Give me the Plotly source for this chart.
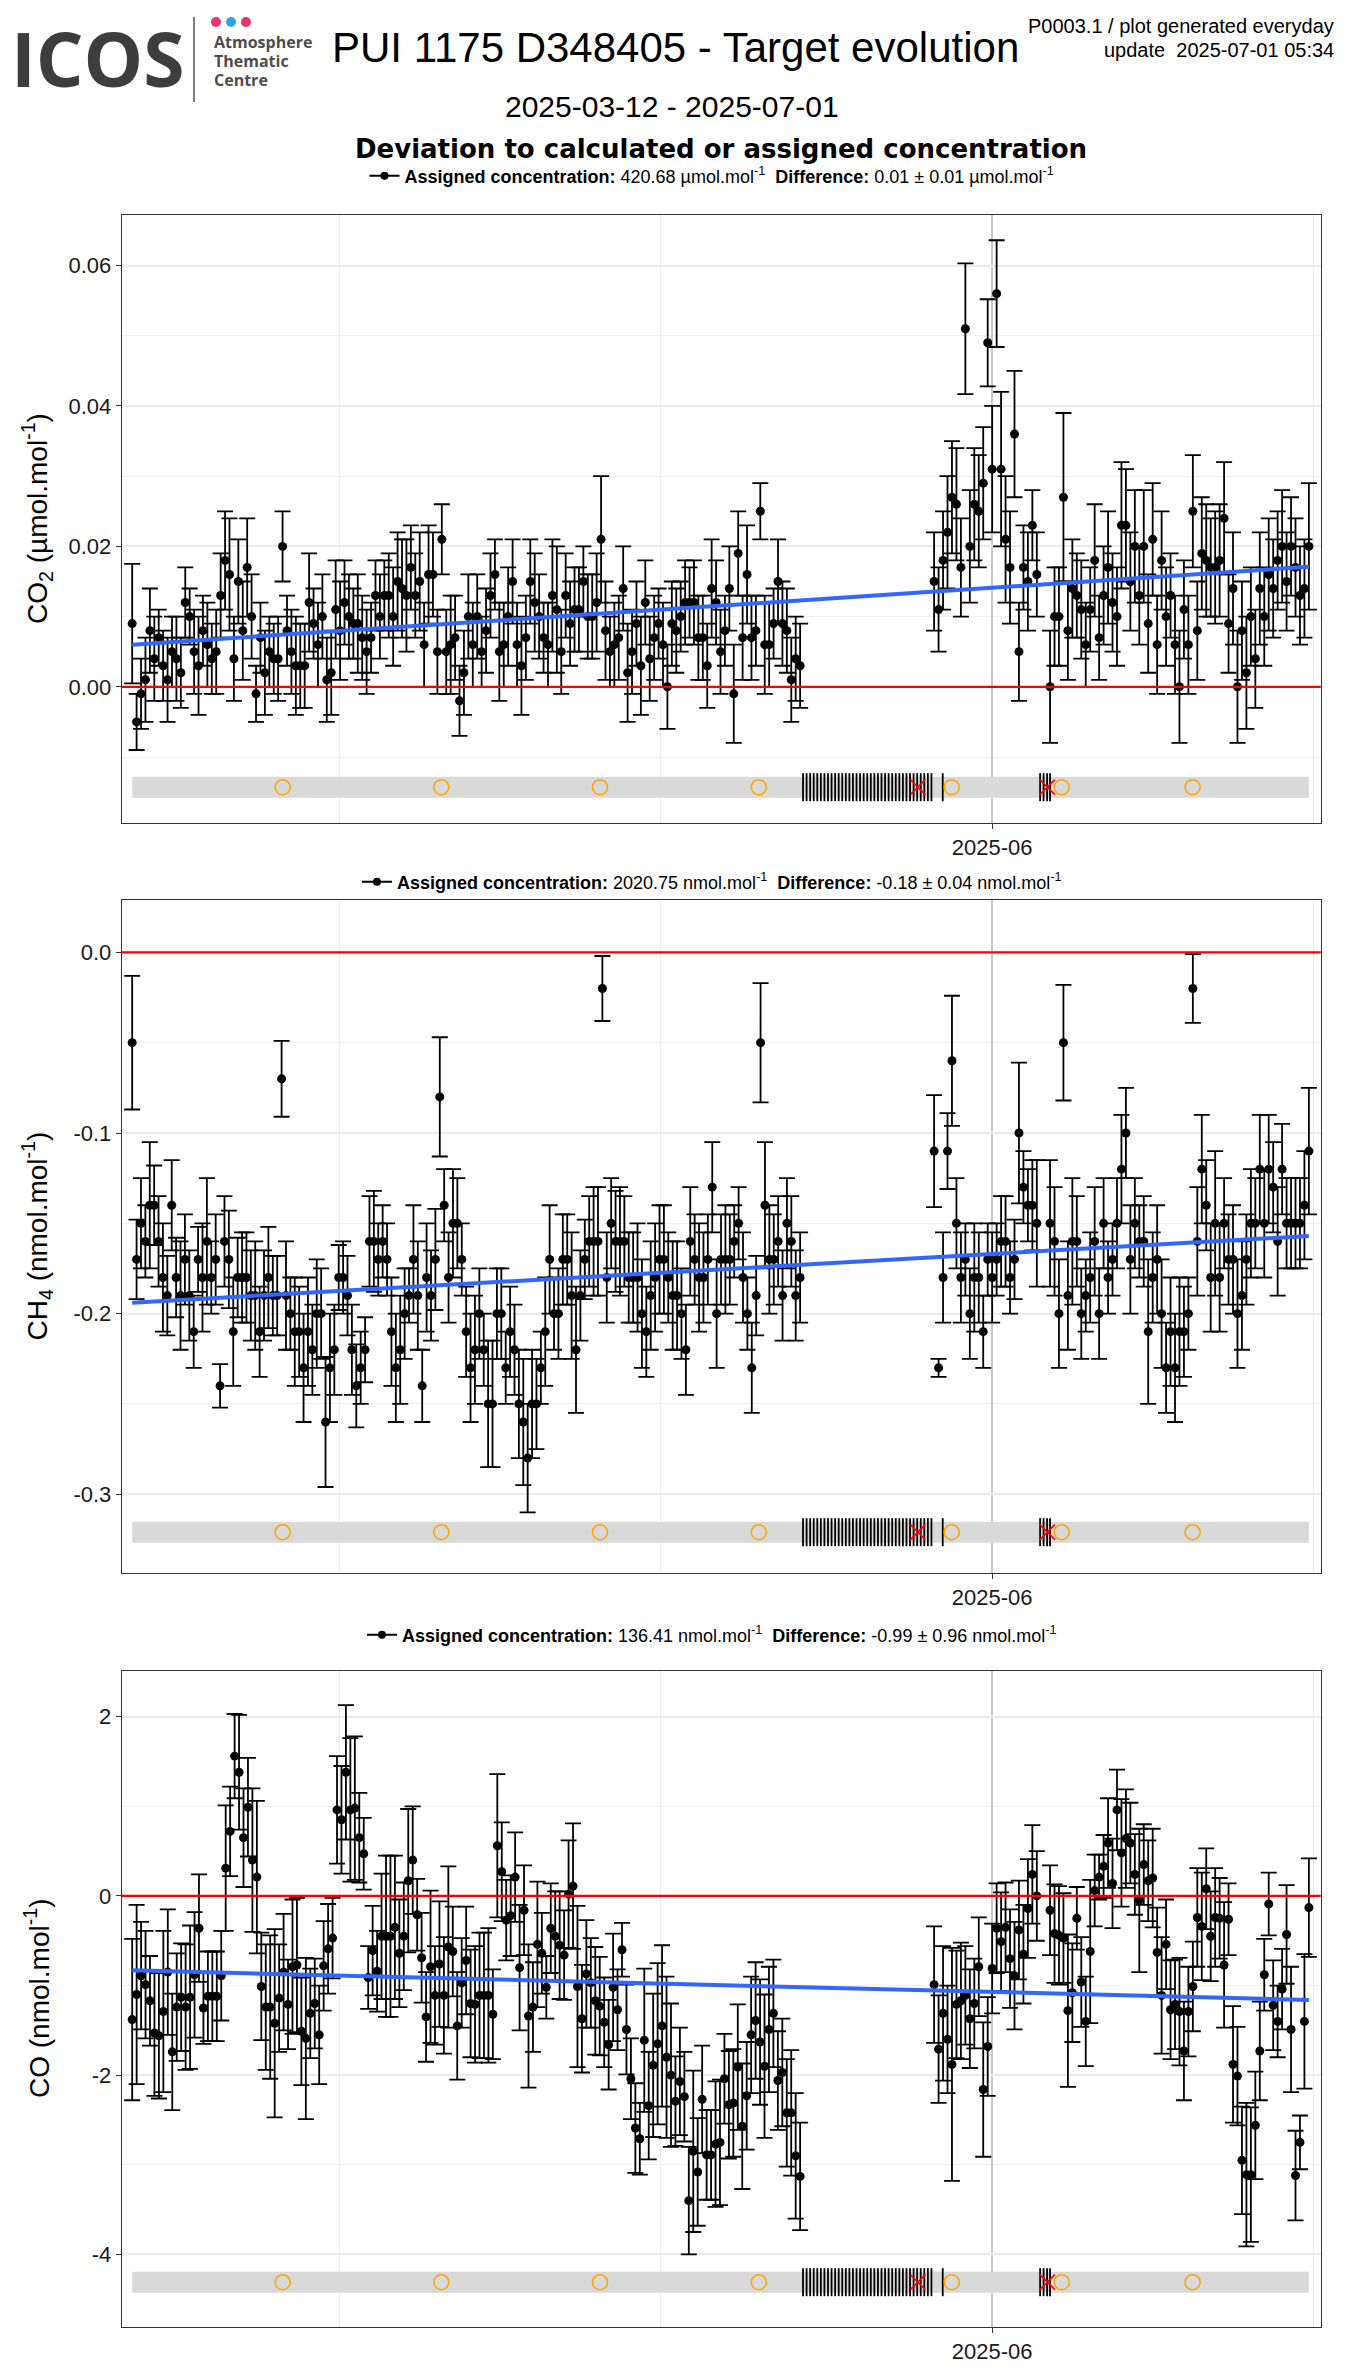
import pandas as pd
import plotly.graph_objects as go

# page is 1350x2370; the html body adds an 8px margin, so the figure is drawn 8px smaller
OFF = 8
WF, HF = 1350 - OFF, 2370 - OFF


def PX(x):
    return (x - OFF) / WF


def PY(y):
    return 1 - (y - OFF) / HF


# ---------------- time blocks (first / last measurement of each contiguous block) -------------
SEG_START = ["2025-03-12 15:30", "2025-05-26 14:00", "2025-06-06 10:00"]
SEG_END = ["2025-05-14 01:30", "2025-06-05 04:20", "2025-06-30 14:30"]
X_RANGE = ["2025-03-11 16:00", "2025-07-01 17:00"]
X_MAJOR = ["2025-06-01"]
X_MAJOR_TEXT = ["2025-06"]
X_MINOR = ["2025-04-01", "2025-05-01", "2025-07-01"]

# ---------------- events shown in the bottom strip ----------------
CAL_CIRCLES = ["2025-03-26 17:00", "2025-04-10 12:40", "2025-04-25 08:40", "2025-05-10 04:50",
               "2025-05-28 05:30", "2025-06-07 12:10", "2025-06-19 17:45"]
RED_X = ["2025-05-25 01:30", "2025-06-06 04:00"]
FLAG_TICKS = [
    "2025-05-14 08:00", "2025-05-14 16:00",
    "2025-05-15 00:00", "2025-05-15 08:00", "2025-05-15 16:00",
    "2025-05-16 00:00", "2025-05-16 08:00", "2025-05-16 16:00",
    "2025-05-17 00:00", "2025-05-17 08:00", "2025-05-17 16:00",
    "2025-05-18 00:00", "2025-05-18 08:00", "2025-05-18 16:00",
    "2025-05-19 00:00", "2025-05-19 08:00", "2025-05-19 16:00",
    "2025-05-20 00:00", "2025-05-20 08:00", "2025-05-20 16:00",
    "2025-05-21 00:00", "2025-05-21 08:00", "2025-05-21 16:00",
    "2025-05-22 00:00", "2025-05-22 08:00", "2025-05-22 16:00",
    "2025-05-23 00:00", "2025-05-23 08:00", "2025-05-23 16:00",
    "2025-05-24 00:00", "2025-05-24 08:00", "2025-05-24 16:00",
    "2025-05-25 00:00", "2025-05-25 08:00", "2025-05-25 16:00",
    "2025-05-26 00:00", "2025-05-26 08:00",
    "2025-05-27 09:20",
    "2025-06-05 11:45", "2025-06-05 19:30", "2025-06-06 03:20", "2025-06-06 10:00",
]

# ---------------- CO2 ----------------
co2_s1 = [0.009, -0.005, -0.001, 0.001, 0.008, 0.004, 0.007, 0.003, 0.001, 0.005,
          0.004, 0.002, 0.012, 0.010, 0.005, 0.003, 0.008, 0.006, 0.004, 0.005,
          0.013, 0.018, 0.016, 0.004, 0.015, 0.008, 0.017, 0.010, -0.001, 0.007,
          0.002, 0.005, 0.004, 0.004, 0.020, 0.008, 0.005, 0.003, 0.003, 0.003,
          0.012, 0.009, 0.006, 0.010, 0.001, 0.002, 0.011, 0.008, 0.012, 0.010,
          0.009, 0.009, 0.007, 0.005, 0.007, 0.013, 0.010, 0.013, 0.013, 0.010,
          0.015, 0.014, 0.013, 0.017, 0.013, 0.015, 0.006, 0.016, 0.016, 0.005,
          0.021, 0.005, 0.006, 0.007, -0.002, 0.002, 0.010, 0.006, 0.010, 0.005,
          0.008, 0.013, 0.016, 0.005, 0.006, 0.010, 0.015, 0.006, 0.003, 0.007,
          0.015, 0.012, 0.010, 0.007, 0.006, 0.013, 0.011, 0.005, 0.013, 0.009,
          0.011, 0.011, 0.015, 0.010, 0.010, 0.012, 0.021, 0.008, 0.005, 0.006,
          0.007, 0.014, 0.002, 0.005, 0.009, 0.003, 0.012, 0.004, 0.007, 0.009,
          0.006, 0.000, 0.009, 0.008, 0.010, 0.012, 0.012, 0.012, 0.007, 0.007,
          0.003, 0.014, 0.012, 0.005, 0.008, 0.014, -0.001, 0.019, 0.007, 0.016,
          0.007, 0.008, 0.025, 0.006, 0.006, 0.009, 0.015, 0.009, 0.008, 0.001,
          0.004, 0.003]
co2_e1 = [0.0085, 0.004, 0.005, 0.006, 0.006, 0.006, 0.004, 0.005, 0.006, 0.005,
          0.006, 0.005, 0.005, 0.004, 0.006, 0.007, 0.005, 0.006, 0.005, 0.006,
          0.006, 0.007, 0.008, 0.006, 0.006, 0.007, 0.007, 0.006, 0.004, 0.005,
          0.006, 0.005, 0.005, 0.006, 0.005, 0.005, 0.006, 0.007, 0.006, 0.006,
          0.007, 0.005, 0.006, 0.006, 0.006, 0.006, 0.007, 0.007, 0.006, 0.006,
          0.005, 0.007, 0.006, 0.006, 0.005, 0.005, 0.006, 0.005, 0.006, 0.007,
          0.007, 0.007, 0.008, 0.006, 0.006, 0.007, 0.006, 0.007, 0.006, 0.006,
          0.005, 0.006, 0.007, 0.006, 0.005, 0.006, 0.006, 0.006, 0.006, 0.005,
          0.006, 0.006, 0.005, 0.007, 0.006, 0.007, 0.006, 0.006, 0.007, 0.006,
          0.006, 0.007, 0.006, 0.005, 0.006, 0.008, 0.009, 0.006, 0.006, 0.006,
          0.006, 0.006, 0.005, 0.006, 0.006, 0.007, 0.009, 0.007, 0.005, 0.006,
          0.006, 0.006, 0.007, 0.006, 0.006, 0.007, 0.006, 0.006, 0.006, 0.005,
          0.006, 0.006, 0.006, 0.006, 0.005, 0.006, 0.005, 0.006, 0.006, 0.006,
          0.006, 0.007, 0.006, 0.006, 0.005, 0.006, 0.007, 0.006, 0.006, 0.007,
          0.006, 0.005, 0.004, 0.007, 0.006, 0.005, 0.006, 0.006, 0.006, 0.006,
          0.006, 0.006]
co2_s2 = [0.015, 0.011, 0.018, 0.022, 0.027, 0.026, 0.017, 0.051, 0.020, 0.026,
          0.025, 0.029, 0.049, 0.031, 0.056, 0.031, 0.021, 0.017, 0.036, 0.005,
          0.017, 0.015, 0.023, 0.016]
co2_e2 = [0.007, 0.006, 0.007, 0.008, 0.008, 0.008, 0.007, 0.0093, 0.008, 0.008,
          0.008, 0.008, 0.0062, 0.009, 0.0076, 0.011, 0.009, 0.008, 0.009, 0.007,
          0.006, 0.007, 0.005, 0.006]
co2_s3 = [0.000, 0.010, 0.010, 0.027, 0.008,
          0.014, 0.013, 0.011, 0.006, 0.011, 0.018, 0.007, 0.013, 0.017, 0.012,
          0.010, 0.023, 0.023, 0.015, 0.020, 0.013, 0.020, 0.009, 0.021, 0.006,
          0.018, 0.010, 0.013, 0.006, 0.000, 0.011, 0.006, 0.025, 0.008, 0.019,
          0.018, 0.017, 0.017, 0.018, 0.024, 0.009, 0.014, 0.000, 0.008, 0.002,
          0.010, 0.004, 0.014, 0.010, 0.016, 0.014, 0.018, 0.020, 0.015, 0.020,
          0.017, 0.013, 0.014, 0.020]
co2_e3 = [0.008, 0.007, 0.007, 0.012, 0.007,
          0.007, 0.006, 0.007, 0.006, 0.006, 0.008, 0.006, 0.007, 0.008, 0.007,
          0.007, 0.009, 0.008, 0.007, 0.008, 0.007, 0.008, 0.007, 0.008, 0.007,
          0.007, 0.007, 0.006, 0.007, 0.008, 0.007, 0.007, 0.008, 0.007, 0.008,
          0.008, 0.007, 0.008, 0.008, 0.008, 0.007, 0.008, 0.008, 0.007, 0.008,
          0.007, 0.007, 0.008, 0.007, 0.008, 0.007, 0.007, 0.008, 0.007, 0.007,
          0.007, 0.007, 0.007, 0.009]
co2_trend = [0.0060, 0.0171]
co2_strip = -0.0143

# ---------------- CH4 ----------------
ch4_s1 = [-0.05, -0.17, -0.15, -0.16, -0.14, -0.14, -0.16, -0.18, -0.19, -0.14,
          -0.18, -0.19, -0.17, -0.19, -0.21, -0.17, -0.18, -0.16, -0.18, -0.17,
          -0.24, -0.16, -0.17, -0.21, -0.18, -0.18, -0.18, -0.19, -0.19, -0.21,
          -0.19, -0.18, -0.19, -0.19, -0.07, -0.19, -0.20, -0.21, -0.21, -0.23,
          -0.21, -0.22, -0.20, -0.20, -0.26, -0.23, -0.22, -0.18, -0.18, -0.19,
          -0.22, -0.24, -0.23, -0.22, -0.16, -0.16, -0.17, -0.16, -0.17, -0.21,
          -0.23, -0.22, -0.20, -0.19, -0.17, -0.19, -0.24, -0.18, -0.19, -0.17,
          -0.08, -0.14, -0.18, -0.15, -0.15, -0.17, -0.21, -0.23, -0.22, -0.20,
          -0.22, -0.25, -0.25, -0.20, -0.20, -0.23, -0.21, -0.22, -0.25, -0.26,
          -0.28, -0.25, -0.25, -0.23, -0.21, -0.17, -0.20, -0.20, -0.17, -0.17,
          -0.19, -0.22, -0.19, -0.17, -0.16, -0.16, -0.16, -0.02, -0.18, -0.15,
          -0.16, -0.16, -0.16, -0.18, -0.18, -0.18, -0.20, -0.21, -0.19, -0.18,
          -0.17, -0.17, -0.18, -0.19, -0.19, -0.20, -0.22, -0.16, -0.17, -0.18,
          -0.18, -0.17, -0.13, -0.20, -0.17, -0.17, -0.17, -0.16, -0.15, -0.18,
          -0.20, -0.23, -0.19, -0.05, -0.14, -0.17, -0.17, -0.16, -0.19, -0.15,
          -0.16, -0.19, -0.18]
ch4_e1 = [0.037, 0.022, 0.025, 0.02, 0.035, 0.022, 0.025, 0.03, 0.022, 0.025,
          0.022, 0.03, 0.025, 0.025, 0.02, 0.018, 0.03, 0.035, 0.02, 0.025,
          0.012, 0.025, 0.027, 0.03, 0.022, 0.025, 0.025, 0.025, 0.03, 0.025,
          0.025, 0.028, 0.022, 0.022, 0.021, 0.03, 0.02, 0.03, 0.025, 0.03,
          0.03, 0.025, 0.03, 0.025, 0.036, 0.03, 0.025, 0.018, 0.02, 0.022,
          0.025, 0.023, 0.02, 0.018, 0.025, 0.028, 0.02, 0.02, 0.02, 0.03,
          0.03, 0.03, 0.025, 0.015, 0.03, 0.03, 0.02, 0.03, 0.025, 0.028,
          0.033, 0.02, 0.025, 0.03, 0.025, 0.02, 0.025, 0.03, 0.03, 0.025,
          0.02, 0.035, 0.035, 0.025, 0.025, 0.02, 0.025, 0.025, 0.03, 0.035,
          0.03, 0.03, 0.025, 0.02, 0.03, 0.03, 0.02, 0.025, 0.025, 0.025,
          0.035, 0.035, 0.025, 0.022, 0.025, 0.03, 0.03, 0.018, 0.025, 0.025,
          0.028, 0.03, 0.025, 0.025, 0.025, 0.03, 0.03, 0.025, 0.03, 0.03,
          0.03, 0.03, 0.025, 0.03, 0.03, 0.025, 0.025, 0.03, 0.025, 0.03,
          0.025, 0.025, 0.025, 0.03, 0.025, 0.03, 0.025, 0.02, 0.02, 0.025,
          0.02, 0.025, 0.022, 0.033, 0.035, 0.03, 0.025, 0.025, 0.025, 0.025,
          0.025, 0.025, 0.025]
ch4_s2 = [-0.11, -0.23, -0.18, -0.11, -0.06, -0.15, -0.18, -0.17, -0.20, -0.18,
          -0.18, -0.21, -0.17, -0.18, -0.17, -0.16, -0.16, -0.18, -0.17, -0.10,
          -0.13, -0.14, -0.14, -0.15]
ch4_e2 = [0.031, 0.005, 0.025, 0.021, 0.036, 0.025, 0.025, 0.02, 0.025, 0.03,
          0.025, 0.02, 0.02, 0.025, 0.02, 0.025, 0.025, 0.02, 0.022, 0.039,
          0.02, 0.02, 0.025, 0.035]
ch4_s3 = [-0.15, -0.16, -0.20, -0.05, -0.19, -0.16, -0.16, -0.20, -0.19, -0.18,
          -0.16, -0.20, -0.15, -0.18, -0.17, -0.15, -0.12, -0.10, -0.17, -0.15,
          -0.16, -0.16, -0.21, -0.18, -0.17, -0.20, -0.23, -0.21, -0.23, -0.21,
          -0.21, -0.20, -0.02, -0.16, -0.12, -0.14, -0.18, -0.15, -0.18, -0.15,
          -0.17, -0.17, -0.20, -0.19, -0.17, -0.15, -0.15, -0.12, -0.15, -0.12,
          -0.13, -0.16, -0.12, -0.15, -0.15, -0.15, -0.15, -0.14, -0.11]
ch4_e3 = [0.035, 0.03, 0.03, 0.032, 0.03, 0.035, 0.025, 0.025, 0.02, 0.025,
          0.03, 0.025, 0.025, 0.02, 0.02, 0.025, 0.03, 0.025, 0.03, 0.025,
          0.02, 0.025, 0.04, 0.025, 0.03, 0.03, 0.025, 0.03, 0.03, 0.03,
          0.025, 0.02, 0.019, 0.03, 0.03, 0.025, 0.03, 0.04, 0.03, 0.025,
          0.025, 0.03, 0.03, 0.03, 0.025, 0.03, 0.025, 0.03, 0.03, 0.03,
          0.025, 0.03, 0.025, 0.025, 0.025, 0.025, 0.025, 0.03, 0.035]
ch4_trend = [-0.194, -0.157]
ch4_strip = -0.321

# ---------------- CO ----------------
co_s1 = [-1.38, -1.10, -0.89, -0.99, -1.17, -1.53, -1.56, -1.29, -0.85, -1.74,
         -1.24, -1.13, -1.24, -1.13, -0.88, -0.36, -1.25, -1.12, -1.12, -1.12,
         -0.89, 0.31, 0.72, 1.56, 1.38, 0.65, 0.99, 0.40, 0.21, -1.01,
         -1.24, -1.24, -1.42, -1.14, -0.85, -1.21, -0.79, -0.77, -1.51, -1.59,
         -1.31, -1.20, -1.55, -0.78, -0.59, -0.47, 0.96, 0.85, 1.38, 0.96,
         0.98, 0.65, 0.47, -0.91, -0.61, -0.84, -0.45, -0.45, -0.45, -0.35,
         -0.64, -0.45, 0.17, 0.40, -0.21, -0.69, -1.35, -0.79, -1.11, -0.76,
         -1.11, -0.57, -0.62, -1.45, -0.97, -0.72, -1.20, -1.21, -1.11, -1.11,
         -1.11, -1.32, 0.56, 0.27, -0.27, -0.22, 0.21, -0.80, -0.16, -1.34,
         -1.24, -0.54, -0.64, -1.02, -0.36, -0.45, -0.55, -0.66, 0.02, 0.11,
         -1.01, -1.37, -0.87, -0.97, -1.17, -1.23, -1.41, -1.66, -1.02, -1.27,
         -0.60, -1.49, -2.04, -2.59, -2.71, -1.61, -2.34, -1.89, -1.65, -1.45,
         -1.80, -2.00, -2.29, -2.07, -2.24, -3.40, -2.85, -3.08, -2.27, -2.89,
         -2.89, -2.77, -2.75, -2.04, -2.33, -2.31, -1.91, -2.57, -2.23, -1.55,
         -1.39, -1.63, -1.90, -1.49, -1.31, -2.06, -1.97, -2.42, -2.42, -2.90,
         -3.13]
co_e1 = [0.9, 1.0, 0.6, 0.6, 0.5, 0.7, 0.7, 0.9, 0.7, 0.65,
         0.6, 0.6, 0.7, 0.8, 0.7, 0.6, 0.4, 0.5, 0.5, 0.5,
         0.5, 0.7, 0.5, 0.47, 0.64, 0.55, 0.55, 0.8, 0.85, 0.6,
         0.7, 0.8, 1.05, 0.6, 0.65, 0.5, 0.75, 0.75, 0.6, 0.9,
         0.5, 0.5, 0.55, 0.5, 0.5, 0.45, 0.6, 0.6, 0.75, 0.8,
         0.8, 0.5, 0.4, 0.35, 0.5, 0.45, 0.7, 0.9, 0.9, 0.8,
         0.6, 0.6, 0.8, 0.6, 0.4, 0.5, 0.5, 0.85, 0.55, 0.7,
         0.65, 0.9, 0.5, 0.6, 0.5, 0.6, 0.6, 0.65, 0.7, 0.7,
         0.75, 0.5, 0.8, 0.55, 0.45, 0.45, 0.5, 0.7, 0.5, 0.8,
         0.5, 0.7, 0.45, 0.35, 0.5, 0.5, 0.6, 0.5, 0.6, 0.7,
         0.9, 0.6, 0.6, 0.5, 0.6, 0.55, 0.5, 0.5, 0.6, 0.45,
         0.3, 0.5, 0.45, 0.5, 0.4, 0.8, 0.6, 0.8, 0.9, 0.9,
         0.9, 0.8, 0.5, 0.6, 0.5, 0.6, 0.9, 0.6, 0.6, 0.5,
         0.5, 0.7, 0.7, 0.5, 0.6, 0.6, 0.7, 0.7, 0.6, 0.65,
         0.65, 0.7, 0.8, 0.7, 0.6, 0.55, 0.6, 0.6, 0.7, 0.7,
         0.6]
co_s2 = [-0.99, -1.71, -1.31, -1.60, -1.88, -1.21, -1.17, -1.11, -1.37, -1.20,
         -0.79, -2.16, -1.68, -0.81, -0.36, -0.51, -0.35, -0.70, -0.89, -0.38,
         -0.65, -0.14, 0.24, 0.00]
co_e2 = [0.65, 0.6, 0.75, 0.6, 1.3, 0.6, 0.65, 0.55, 0.55, 0.5,
         0.55, 0.75, 0.55, 0.5, 0.5, 0.55, 0.5, 0.55, 0.6, 0.55,
         0.55, 0.55, 0.55, 0.5]
co_s3 = [-0.16, -0.42, -0.44, -0.47, -1.28, -1.08, -0.25, -0.96, -1.40, -0.62,
         0.06, 0.21, 0.33, 0.59, 0.14, 0.96, 0.48, 0.64, 0.59, 0.24,
         -0.05, 0.35, 0.17, 0.20, -0.63, -1.11, -0.54, -1.27, -1.21, -1.29,
         -1.73, -1.29, -1.01, -0.24, -0.34, 0.08, -0.45, -0.24, -0.25, -0.77,
         -0.26, -1.88, -2.01, -2.95, -3.11, -3.11, -2.56, -1.73, -0.88, -0.09,
         -1.22, -1.40, -1.04, -0.43, -1.49, -3.12, -2.75, -1.40, -0.13]
co_e3 = [0.5, 0.55, 0.55, 0.5, 0.85, 0.55, 0.35, 0.5, 0.5, 0.8,
         0.4, 0.25, 0.35, 0.5, 0.5, 0.45, 0.6, 0.55, 0.45, 0.45,
         0.8, 0.45, 0.45, 0.55, 0.5, 0.65, 0.5, 0.55, 0.5, 0.6,
         0.55, 0.5, 0.5, 0.55, 0.6, 0.45, 0.5, 0.55, 0.45, 0.7,
         0.4, 0.65, 0.55, 0.6, 0.8, 0.75, 0.6, 0.55, 0.4, 0.35,
         0.5, 0.4, 0.45, 0.55, 0.7, 0.5, 0.3, 0.75, 0.55]
co_trend = [-0.83, -1.16]
co_strip = -4.31

# ---------------- labels ----------------
co2_ticks = [0.0, 0.02, 0.04, 0.06]
co2_ticktext = ["0.00", "0.02", "0.04", "0.06"]
co2_minor = [-0.01, 0.01, 0.03, 0.05]
ch4_ticks = [0.0, -0.1, -0.2, -0.3]
ch4_ticktext = ["0.0", "-0.1", "-0.2", "-0.3"]
ch4_minor = [-0.05, -0.15, -0.25]
co_ticks = [2, 0, -2, -4]
co_ticktext = ["2", "0", "-2", "-4"]
co_minor = [1, -1, -3]

FONT = "Liberation Sans, Arial, sans-serif"


def stamps(start, end, n):
    return list(pd.date_range(start, end, periods=n))


PANELS = [
    dict(vals=[co2_s1, co2_s2, co2_s3], errs=[co2_e1, co2_e2, co2_e3], trend=co2_trend,
         strip=co2_strip, yrange=[-0.0194, 0.0672], ticks=co2_ticks, ticktext=co2_ticktext,
         minor=co2_minor, ytitle="CO<sub>2</sub> (µmol.mol<sup>-1</sup>)",
         legend="<b>Assigned concentration:</b> 420.68 µmol.mol<sup>-1</sup>&nbsp;&nbsp;"
                "<b>Difference:</b> 0.01 ± 0.01 µmol.mol<sup>-1</sup>",
         top=215, bottom=823, legend_px=176),
    dict(vals=[ch4_s1, ch4_s2, ch4_s3], errs=[ch4_e1, ch4_e2, ch4_e3], trend=ch4_trend,
         strip=ch4_strip, yrange=[-0.3436, 0.029], ticks=ch4_ticks, ticktext=ch4_ticktext,
         minor=ch4_minor, ytitle="CH<sub>4</sub> (nmol.mol<sup>-1</sup>)",
         legend="<b>Assigned concentration:</b> 2020.75 nmol.mol<sup>-1</sup>&nbsp;&nbsp;"
                "<b>Difference:</b> -0.18 ± 0.04 nmol.mol<sup>-1</sup>",
         top=900, bottom=1573, legend_px=882),
    dict(vals=[co_s1, co_s2, co_s3], errs=[co_e1, co_e2, co_e3], trend=co_trend,
         strip=co_strip, yrange=[-4.81, 2.51], ticks=co_ticks, ticktext=co_ticktext,
         minor=co_minor, ytitle="CO (nmol.mol<sup>-1</sup>)",
         legend="<b>Assigned concentration:</b> 136.41 nmol.mol<sup>-1</sup>&nbsp;&nbsp;"
                "<b>Difference:</b> -0.99 ± 0.96 nmol.mol<sup>-1</sup>",
         top=1671, bottom=2327, legend_px=1635),
]

X_LEFT, X_RIGHT = 121.7, 1320.7

fig = go.Figure()
layout = dict(width=WF, height=HF, autosize=False, margin=dict(l=0, r=0, t=0, b=0),
              paper_bgcolor="white", plot_bgcolor="white", font=dict(family=FONT, color="black"),
              shapes=[], annotations=[])

for i, p in enumerate(PANELS, start=1):
    sfx = "" if i == 1 else str(i)
    xa, ya = "x" + sfx, "y" + sfx
    t_all, v_all, e_all = [], [], []
    for (s, e), vals, errs in zip(zip(SEG_START, SEG_END), p["vals"], p["errs"]):
        n = min(len(vals), len(errs))
        t_all += stamps(s, e, len(vals))[:n]
        v_all += vals[:n]
        e_all += errs[:n]
    first, last = t_all[0], t_all[-1]

    # grey strip + events
    fig.add_trace(go.Scatter(x=[first, last], y=[p["strip"], p["strip"]], mode="lines",
                             line=dict(color="#d9d9d9", width=21), xaxis=xa, yaxis=ya,
                             showlegend=False, hoverinfo="skip"))
    fig.add_trace(go.Scatter(x=FLAG_TICKS, y=[p["strip"]] * len(FLAG_TICKS), mode="markers",
                             marker=dict(symbol="line-ns", size=20, line=dict(color="black", width=1.8)),
                             xaxis=xa, yaxis=ya, showlegend=False, hoverinfo="skip"))
    fig.add_trace(go.Scatter(x=RED_X, y=[p["strip"]] * len(RED_X), mode="markers",
                             marker=dict(symbol="x-thin", size=15, line=dict(color="red", width=1.6)),
                             xaxis=xa, yaxis=ya, showlegend=False, hoverinfo="skip"))
    fig.add_trace(go.Scatter(x=CAL_CIRCLES, y=[p["strip"]] * len(CAL_CIRCLES), mode="markers",
                             marker=dict(symbol="circle-open", size=15, color="#FFA500",
                                         line=dict(color="#FFA500", width=1.6)),
                             xaxis=xa, yaxis=ya, showlegend=False, hoverinfo="skip"))

    # measurements
    fig.add_trace(go.Scatter(x=t_all, y=v_all, mode="markers",
                             marker=dict(color="black", size=9),
                             error_y=dict(type="data", array=e_all, visible=True, color="black",
                                          thickness=1.8, width=8),
                             xaxis=xa, yaxis=ya, showlegend=False))
    # trend
    fig.add_trace(go.Scatter(x=[first, last], y=p["trend"], mode="lines",
                             line=dict(color="#3366FF", width=4), xaxis=xa, yaxis=ya,
                             showlegend=False, hoverinfo="skip"))
    # legend entry
    lg = "legend" + sfx
    fig.add_trace(go.Scatter(x=[None], y=[None], mode="lines+markers", name=p["legend"],
                             line=dict(color="black", width=2), marker=dict(color="black", size=8),
                             xaxis=xa, yaxis=ya, showlegend=True, legend=lg))
    layout[lg] = dict(x=PX(712), y=PY(p["legend_px"]), xanchor="center",
                      yanchor="middle", orientation="h", bgcolor="rgba(0,0,0,0)",
                      font=dict(size=18, family=FONT, color="black"), itemwidth=30)

    dom_y = [PY(p["bottom"]), PY(p["top"])]
    layout["xaxis" + sfx] = dict(domain=[PX(X_LEFT), PX(X_RIGHT)], anchor=ya, type="date",
                                 range=X_RANGE, tickmode="array", tickvals=X_MAJOR, ticktext=X_MAJOR_TEXT,
                                 ticks="outside", ticklen=5, tickwidth=1, tickcolor="#333333",
                                 tickfont=dict(size=22, family=FONT, color="#1a1a1a"),
                                 showgrid=True, gridcolor="#c8c8c8", gridwidth=2,
                                 minor=dict(tickmode="array", tickvals=X_MINOR, showgrid=True,
                                            gridcolor="#ebebeb", gridwidth=1, ticks=""),
                                 showline=True, linecolor="#333333", linewidth=1, mirror=True,
                                 zeroline=False, automargin=False)
    layout["yaxis" + sfx] = dict(domain=dom_y, anchor=xa, range=p["yrange"], tickmode="array",
                                 tickvals=p["ticks"], ticktext=p["ticktext"], ticks="outside",
                                 ticklen=5, tickwidth=1, tickcolor="#333333",
                                 tickfont=dict(size=22, family=FONT, color="#1a1a1a"),
                                 showgrid=True, gridcolor="#ebebeb", gridwidth=1.6,
                                 minor=dict(tickmode="array", tickvals=p["minor"], showgrid=True,
                                            gridcolor="#f0f0f0", gridwidth=1, ticks=""),
                                 showline=True, linecolor="#333333", linewidth=1, mirror=True,
                                 zeroline=False, automargin=False)
    layout["shapes"].append(dict(type="line", xref=xa + " domain", yref=ya, x0=0, x1=1, y0=0, y1=0,
                                 line=dict(color="red", width=2.2), layer="above"))
    layout["annotations"].append(dict(text=p["ytitle"], xref="paper", yref="paper", x=PX(37),
                                      y=(dom_y[0] + dom_y[1]) / 2, textangle=-90, showarrow=False,
                                      xanchor="center", yanchor="middle",
                                      font=dict(size=28, family=FONT, color="black")))


def ann(text, px, py, size, xanchor="center", family=FONT, color="black"):
    return dict(text=text, xref="paper", yref="paper", x=PX(px), y=PY(py), showarrow=False,
                xanchor=xanchor, yanchor="middle", font=dict(size=size, family=family, color=color))


layout["annotations"] += [
    ann("<b>ICOS</b>", 9, 58, 75, xanchor="left", family="Open Sans, sans-serif", color="#3d3d3d"),
    ann("<b>Atmosphere</b>", 212, 42, 16, xanchor="left", family="Open Sans, sans-serif", color="#4d4d4d"),
    ann("<b>Thematic</b>", 212, 61, 16, xanchor="left", family="Open Sans, sans-serif", color="#4d4d4d"),
    ann("<b>Centre</b>", 212, 80, 16, xanchor="left", family="Open Sans, sans-serif", color="#4d4d4d"),
    ann("PUI 1175 D348405 - Target evolution", 675, 48, 42),
    ann("P0003.1 / plot generated everyday", 1336, 26, 20, xanchor="right"),
    ann("update&nbsp; 2025-07-01 05:34", 1336, 50, 20, xanchor="right"),
    ann("2025-03-12 - 2025-07-01", 672, 107, 30),
    ann("<b>Deviation to calculated or assigned concentration</b>", 721, 149, 26,
        family="DejaVu Sans, sans-serif"),
]
layout["shapes"].append(dict(type="line", xref="paper", yref="paper", x0=PX(194), x1=PX(194),
                             y0=PY(102), y1=PY(17), line=dict(color="#555555", width=1.5)))
for cx, col in [(216, "#e8336f"), (231, "#2aa5e3"), (246, "#e8336f")]:
    layout["shapes"].append(dict(type="circle", xref="paper", yref="paper",
                                 x0=PX(cx - 5), x1=PX(cx + 5), y0=PY(27), y1=PY(17),
                                 fillcolor=col, line=dict(width=0)))

fig.update_layout(**layout)
fig.write_html("out.html")
